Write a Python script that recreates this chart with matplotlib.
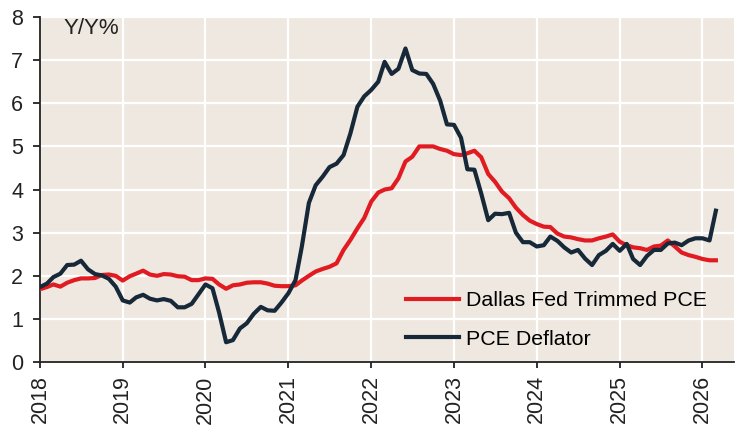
import pandas as pd
import matplotlib
matplotlib.use("Agg")
from matplotlib import pyplot as plt
import matplotlib.dates as mdates

# monthly Y/Y %, Jan 2018 - Mar 2026
startMonth = "2018-01-01"

trimmedPce = [
    1.69, 1.74, 1.80, 1.75, 1.84, 1.90, 1.94, 1.94, 1.95, 2.02, 2.03, 2.00,
    1.89, 1.99, 2.05, 2.12, 2.03, 2.00, 2.04, 2.03, 1.99, 1.98, 1.90, 1.90,
    1.94, 1.93, 1.80, 1.70, 1.78, 1.80, 1.84, 1.85, 1.85, 1.82, 1.77, 1.76,
    1.76, 1.78, 1.89, 2.00, 2.10, 2.16, 2.21, 2.29, 2.60, 2.83, 3.10, 3.34,
    3.72, 3.93, 4.00, 4.03, 4.26, 4.65, 4.76, 5.00, 5.00, 5.00, 4.94, 4.90,
    4.82, 4.80, 4.84, 4.90, 4.75, 4.36, 4.18, 3.95, 3.80, 3.58, 3.41, 3.28,
    3.20, 3.14, 3.13, 2.98, 2.91, 2.89, 2.85, 2.82, 2.82, 2.87, 2.91, 2.96,
    2.79, 2.71, 2.66, 2.64, 2.60, 2.68, 2.70, 2.82, 2.68, 2.54, 2.48, 2.44,
    2.39, 2.36, 2.36,
]

pceDeflator = [
    1.74, 1.82, 1.97, 2.05, 2.25, 2.26, 2.35, 2.15, 2.04, 2.01, 1.93, 1.75,
    1.43, 1.38, 1.50, 1.56, 1.47, 1.43, 1.46, 1.42, 1.27, 1.27, 1.35, 1.57,
    1.80, 1.71, 1.15, 0.46, 0.51, 0.78, 0.90, 1.12, 1.28, 1.20, 1.19, 1.38,
    1.60, 1.90, 2.68, 3.69, 4.10, 4.30, 4.52, 4.60, 4.80, 5.30, 5.92, 6.16,
    6.31, 6.50, 6.96, 6.68, 6.80, 7.27, 6.77, 6.69, 6.68, 6.45, 6.06, 5.51,
    5.50, 5.20, 4.47, 4.46, 3.91, 3.29, 3.44, 3.43, 3.46, 3.00, 2.78, 2.78,
    2.68, 2.71, 2.91, 2.81, 2.66, 2.54, 2.60, 2.40, 2.25, 2.48, 2.58, 2.74,
    2.58, 2.74, 2.39, 2.25, 2.46, 2.60, 2.60, 2.75, 2.77, 2.71, 2.82, 2.87,
    2.87, 2.82, 3.51,
]

seriesNames = ["Dallas Fed Trimmed PCE", "PCE Deflator"]
yTicks = [0, 1, 2, 3, 4, 5, 6, 7, 8]

RED = "#E11B22"
NAVY = "#172838"
BG = "#EFE8E0"

plt.rcParams["font.family"] = ["Liberation Sans", "DejaVu Sans"]


def plotChart():
    months = pd.date_range(startMonth, periods=len(trimmedPce), freq="MS")

    fig = plt.figure(figsize=(7.36, 4.25), dpi=100)
    ax = fig.add_axes([0.0543, 0.148, 0.943, 0.812])
    ax.set_facecolor(BG)

    ax.plot(months, trimmedPce, color=RED, lw=3, label=seriesNames[0], zorder=3)
    ax.plot(months, pceDeflator, color=NAVY, lw=3, label=seriesNames[1], zorder=4)

    ax.set_ylim(0, 8)
    ax.set_yticks(yTicks)
    ax.set_xlim(pd.Timestamp("2018-01-01"), pd.Timestamp("2026-05-20"))
    ax.xaxis.set_major_locator(mdates.YearLocator())
    ax.xaxis.set_major_formatter(mdates.DateFormatter("%Y"))

    ax.grid(True, color="white", lw=1.6)
    ax.set_axisbelow(True)
    for side in ["top", "right"]:
        ax.spines[side].set_visible(False)
    for side in ["left", "bottom"]:
        ax.spines[side].set_color("#222222")
        ax.spines[side].set_linewidth(1.3)

    ax.tick_params(axis="y", length=5, width=1.3, pad=7, labelsize=15.5, colors="#222222")
    ax.tick_params(axis="x", length=4.5, width=1.3, pad=5, labelsize=15.5, colors="#222222",
                   labelrotation=90)

    ax.text(0.0335, 0.967, "Y/Y%", transform=ax.transAxes, fontsize=16,
            va="center", ha="left", color="#222222")

    ax.legend(loc="center left", bbox_to_anchor=(0.527, 0.122), frameon=False,
              fontsize=15.4, handlelength=2.5, handletextpad=0.3, labelspacing=0.9,
              borderpad=0, borderaxespad=0)

    fig.savefig("out.png", dpi=100, facecolor="white")


# Run Program
plotChart()
